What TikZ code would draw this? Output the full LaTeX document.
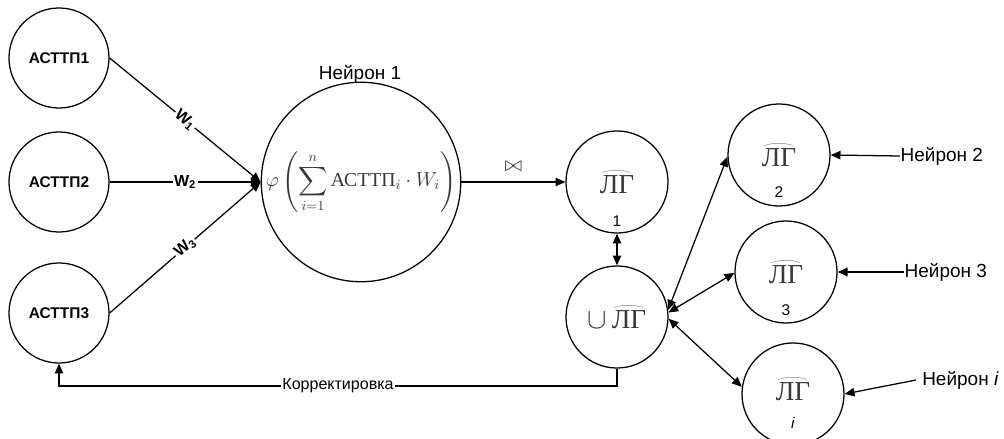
\documentclass[tikz,border=0pt]{standalone}
\usepackage{amsmath}
\usepackage{fontspec}
\setmainfont{Liberation Sans}
\newfontfamily\lgfont{Liberation Serif}
\usetikzlibrary{arrows.meta}
\colorlet{ink}{black!78}
\tikzset{
  asttp/.style={circle, draw, minimum size=2.5cm, inner sep=0pt, font=\fontsize{11}{13}\selectfont\bfseries},
  neuron/.style={circle, draw, minimum size=4.9cm, inner sep=0pt, text=ink},
  lgnode/.style={circle, draw, minimum size=2.55cm, inner sep=0pt, text=ink, font=\fontsize{19.5}{22}\selectfont},
  lbl/.style={font=\fontsize{13.5}{15}\selectfont, inner sep=0pt},
  corr/.style={font=\fontsize{11.4}{13}\selectfont, fill=white, inner sep=1pt},
  wlbl/.style={font=\fontsize{11.4}{13}\selectfont\bfseries, fill=white, inner sep=1pt},
  sub/.style={font=\fontsize{11}{13}\selectfont, inner sep=0pt},
  tip/.style={-{Triangle[length=7pt,width=6pt]}},
  biarr/.style={{Triangle[length=7pt,width=6pt]}-{Triangle[length=7pt,width=6pt]}},
}
% arc over the two letters
\newcommand{\arcLG}{\mbox{\lgfont\rlap{\hspace{0.02em}\raisebox{0.7em}{\resizebox{1.2em}{0.13em}{$\frown$}}}ЛГ}}

\begin{document}
\begin{tikzpicture}[x=0.025cm, y=-0.025cm, line width=0.9pt]
        \useasboundingbox (0,0) rectangle (1004,439);
        % inputs
        \node[asttp] (a1) at (59,58) {АСТТП1};
        \node[asttp] (a2) at (59,182) {АСТТП2};
        \node[asttp] (a3) at (59,313) {АСТТП3};
        % first neuron
        \node[neuron] (n1) at (361,182) {\fontsize{14}{16}\selectfont$\displaystyle\varphi\left(\sum_{i=1}^{n}\mbox{\lgfont АСТТП}_i\cdot W_i\right)$};
        \node[lbl] (n1lbl) at (360,74) {Нейрон 1};
        \draw[tip] (a1.east)--(n1.west) node[wlbl, midway, sloped] {W\textsubscript{1}};
        \draw[tip] (a2.east)--(n1.west) node[wlbl, midway] {W\textsubscript{2}};
        \draw[tip] (a3.east)--(n1.west) node[wlbl, midway, sloped] {W\textsubscript{3}};
        % graphs
        \node[lgnode] (lg1) at (617,182) {\arcLG};
        \node[lgnode] (ulg) at (617,317) {$\cup$\,\arcLG};
        \node[lgnode] (lg2) at (779,155) {\arcLG};
        \node[lgnode] (lg3) at (786,272) {\arcLG};
        \node[lgnode] (lgi) at (793,394) {\raisebox{7pt}{\arcLG}};
        \node[sub] (s1) at (617,221) {1};
        \node[sub] (s2) at (779,192) {2};
        \node[sub] (s3) at (786,310) {3};
        \node[sub] (si) at (793,423) {\textit{i}};
        \draw[tip] (n1.east)--(lg1.west) node[midway, above=2pt, text=ink, scale=1.5] {$\bowtie$};
        \draw[biarr] (lg1.south)--(ulg.north);
        \draw[biarr] (ulg.8)--(lg2.182);
        \draw[biarr] (ulg.5)--(lg3.181);
        \draw[biarr] (ulg.-2)--(lgi.172);
        % other neurons
        \node[lbl, anchor=west] (r2) at (900,156) {Нейрон 2};
        \node[lbl, anchor=west] (r3) at (904,272) {Нейрон 3};
        \node[lbl, anchor=west, inner xsep=4pt] (ri) at (916,380) {Нейрон \textit{i}};
        \draw[tip] (r2.west)--(lg2.east);
        \draw[tip] (r3.west)--(lg3.east);
        \draw[tip] (ri.west)--(lgi.east);
        % feedback
        \coordinate (turn) at (617,386);
        \draw[tip] (ulg.south)--(turn) -| (a3.south) node[corr, pos=0.25] {Корректировка};
    \end{tikzpicture}
\end{document}
